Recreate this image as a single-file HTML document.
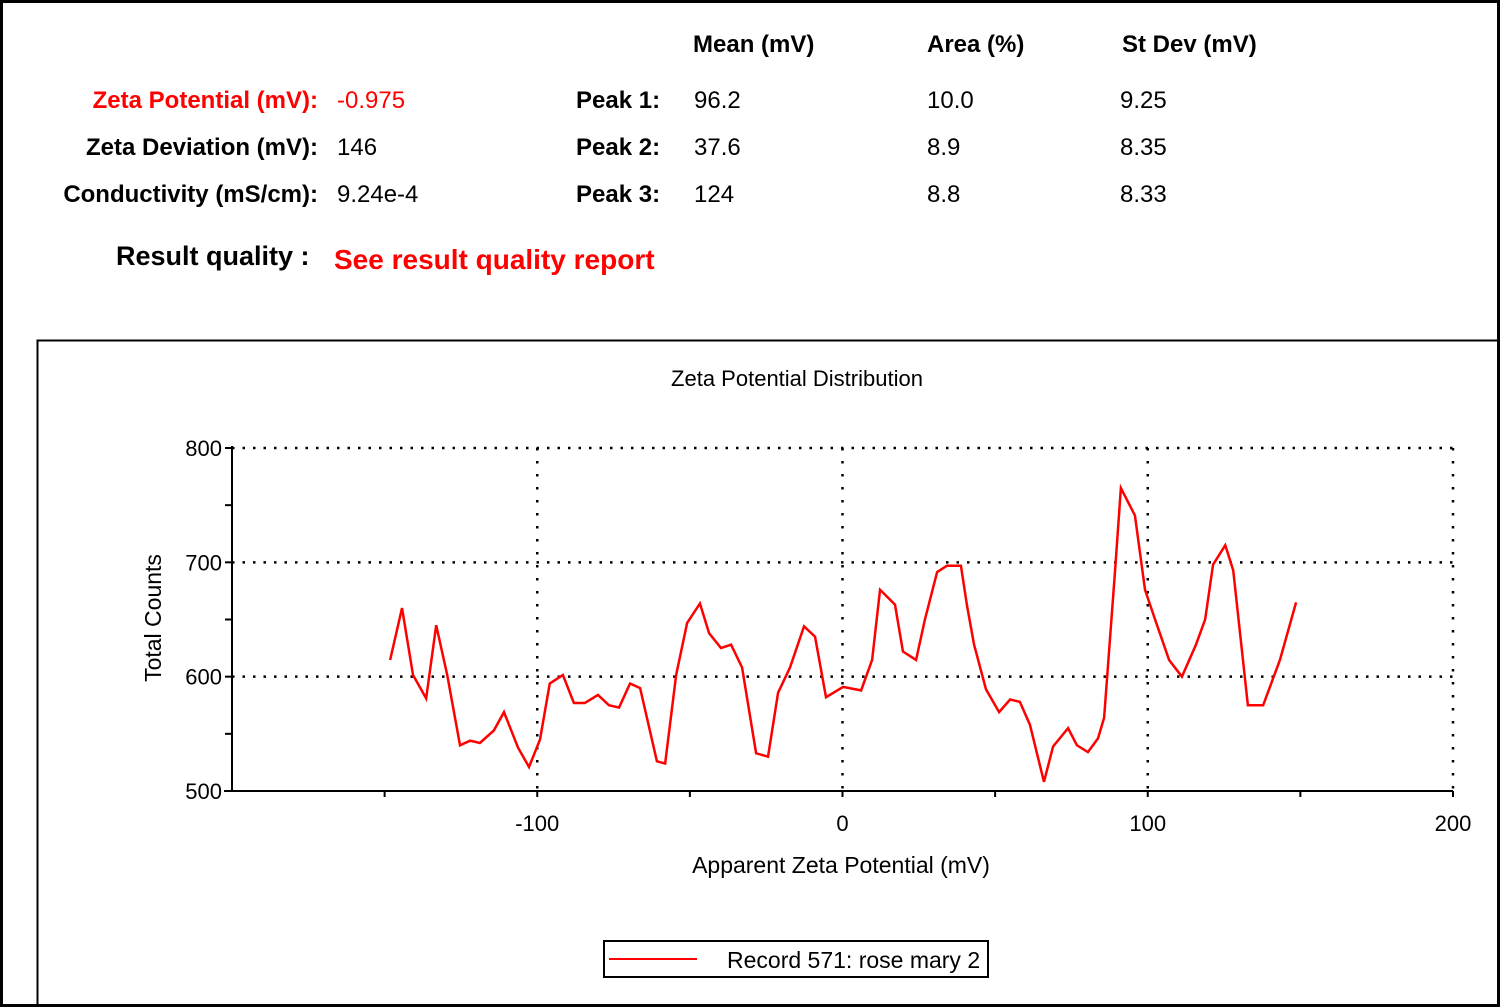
<!DOCTYPE html>
<html><head><meta charset="utf-8"><style>
html,body{margin:0;padding:0;background:#fff;}
body{width:1500px;height:1007px;position:relative;overflow:hidden;font-family:"Liberation Sans",Arial,sans-serif;}
.frame{position:absolute;left:0;top:0;width:1494px;height:1001px;border:3px solid #000;}
.t{position:absolute;font-size:24px;white-space:nowrap;color:#000;}
.b{font-weight:bold;}
.r{color:#f00;}
.rt{text-align:right;}
</style></head><body>
<div class="frame"></div>
<div class="t b" style="left:693px;top:31px">Mean (mV)</div>
<div class="t b" style="left:927px;top:31px">Area (%)</div>
<div class="t b" style="left:1122px;top:31px">St Dev (mV)</div>

<div class="t b r rt" style="right:1182px;top:87px">Zeta Potential (mV):</div>
<div class="t r" style="left:337px;top:87px">-0.975</div>
<div class="t b rt" style="right:1182px;top:134px">Zeta Deviation (mV):</div>
<div class="t" style="left:337px;top:134px">146</div>
<div class="t b rt" style="right:1182px;top:181px">Conductivity (mS/cm):</div>
<div class="t" style="left:337px;top:181px">9.24e-4</div>

<div class="t b" style="left:576px;top:87px">Peak 1:</div>
<div class="t" style="left:694px;top:87px">96.2</div>
<div class="t" style="left:927px;top:87px">10.0</div>
<div class="t" style="left:1120px;top:87px">9.25</div>
<div class="t b" style="left:576px;top:134px">Peak 2:</div>
<div class="t" style="left:694px;top:134px">37.6</div>
<div class="t" style="left:927px;top:134px">8.9</div>
<div class="t" style="left:1120px;top:134px">8.35</div>
<div class="t b" style="left:576px;top:181px">Peak 3:</div>
<div class="t" style="left:694px;top:181px">124</div>
<div class="t" style="left:927px;top:181px">8.8</div>
<div class="t" style="left:1120px;top:181px">8.33</div>

<div class="t b" style="left:116px;top:241px;font-size:27px">Result quality :</div>
<div class="t b r" style="left:334px;top:244px;font-size:28px">See result quality report</div>

<svg id="chart" width="1500" height="1007" style="position:absolute;left:0;top:0">
<rect x="37.5" y="340.5" width="1470" height="670" fill="none" stroke="#000" stroke-width="2"/>
<text x="797" y="386" font-size="22" text-anchor="middle" font-family="Liberation Sans, sans-serif">Zeta Potential Distribution</text>
<g id="grid"></g><g id="axes"></g>
<polyline id="series" fill="none" stroke="#f00" stroke-width="2.5"/>
<text x="841" y="873" font-size="23" text-anchor="middle" font-family="Liberation Sans, sans-serif">Apparent Zeta Potential (mV)</text>
<text transform="translate(161,618) rotate(-90)" font-size="23" text-anchor="middle" font-family="Liberation Sans, sans-serif">Total Counts</text>
<g>
<rect x="604" y="941" width="384" height="36" fill="none" stroke="#000" stroke-width="2"/>
<line x1="609" y1="959" x2="697" y2="959" stroke="#f00" stroke-width="2"/>
<text x="727" y="968" font-size="23" font-family="Liberation Sans, sans-serif">Record 571: rose mary 2</text>
</g>
</svg>
<script>
const xTicks=[-100,0,100,200];
const yTicks=[500,600,700,800];
const xVals=[-148.2,-144.3,-140.7,-136.4,-133.1,-129.5,-125.3,-122.0,-118.8,-114.2,-110.9,-106.3,-102.7,-99.1,-95.9,-91.6,-88.0,-84.4,-80.1,-76.5,-73.2,-69.6,-66.3,-60.8,-58.1,-54.5,-50.9,-46.7,-43.7,-39.8,-36.5,-32.9,-28.3,-24.4,-21.1,-17.2,-12.6,-9.0,-5.4,0.2,6.1,9.7,12.3,17.2,19.8,24.1,27.0,31.0,34.2,38.8,40.8,43.1,47.0,51.3,54.9,58.1,61.4,66.0,69.0,73.9,76.8,80.4,83.7,85.7,89.3,91.2,95.8,99.1,102.4,107.0,111.2,115.8,118.8,121.4,125.4,128.0,132.8,137.8,143.3,148.6];
const counts=[614.6,660,601.5,581,645,601.5,540,544,542,553,569,538,521,545,594,601.5,577,577,584,575,573,594,590,526,524,601.5,647,664,638,625,628,608,533,530,586,608,644,635,582,591,588,614.6,676,663,622,614.6,650,691.5,697,697,662,628,589,569,580,578,558,508,539,555,540,534,546,564,693,765,741,676,650,614.6,600,628,650,698,715,693,575,575,614.6,665];
const X0=232,X1=1453,Y0=791,Y1=448;
const sx=v=>X0+(v+200)/400*(X1-X0);
const sy=v=>Y0-(v-500)/300*(Y0-Y1);
const NS="http://www.w3.org/2000/svg";
const grid=document.getElementById('grid'),axes=document.getElementById('axes');
function mk(tag,attrs,parent){const e=document.createElementNS(NS,tag);for(const k in attrs)e.setAttribute(k,attrs[k]);parent.appendChild(e);return e;}
yTicks.forEach(v=>{if(v>500){const l=mk('line',{x1:X0,x2:X1,y1:sy(v),y2:sy(v),stroke:'#000','stroke-width':2.5,'stroke-dasharray':'2.5 8'},grid);

}
const t=mk('text',{x:X0-10,y:sy(v)+8,'font-size':22,'text-anchor':'end','font-family':'Liberation Sans, sans-serif'},axes);t.textContent=v;

});
xTicks.forEach(v=>{const l=mk('line',{x1:sx(v),x2:sx(v),y1:Y1,y2:Y0,stroke:'#000','stroke-width':2.5,'stroke-dasharray':'2.5 10.5'},grid);


const t=mk('text',{x:sx(v),y:831,'font-size':22,'text-anchor':'middle','font-family':'Liberation Sans, sans-serif'},axes);t.textContent=v;

});
mk('line',{x1:X0,x2:X0,y1:Y1-2,y2:Y0,stroke:'#000','stroke-width':2},axes);
mk('line',{x1:X0-8,x2:X1,y1:Y0,y2:Y0,stroke:'#000','stroke-width':2},axes);
for(let v=-150;v<=200;v+=50)mk('line',{x1:sx(v),x2:sx(v),y1:Y0,y2:Y0+6,stroke:'#000','stroke-width':2},axes);
for(let v=500;v<=800;v+=50)mk('line',{x1:X0-7,x2:X0,y1:sy(v),y2:sy(v),stroke:'#000','stroke-width':2},axes);
document.getElementById('series').setAttribute('points',xVals.map((x,i)=>sx(x)+','+sy(counts[i])).join(' '));
</script>
</body></html>
